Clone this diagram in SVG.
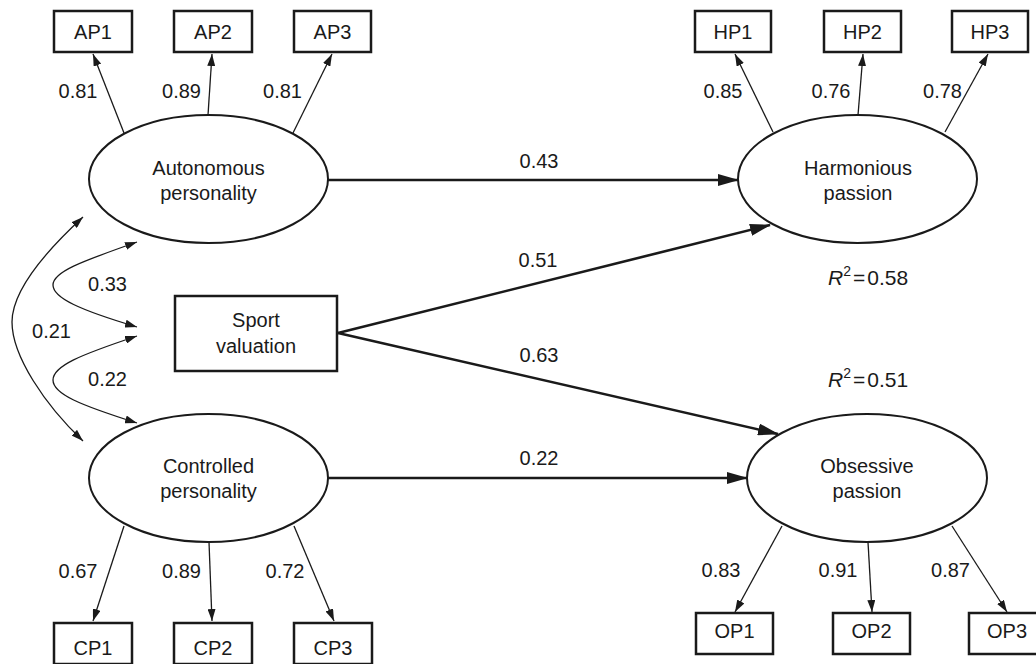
<svg xmlns="http://www.w3.org/2000/svg" width="1036" height="664" viewBox="0 0 1036 664">
<style>
text{font-family:"Liberation Sans",Arial,sans-serif;font-size:20px;fill:#1a1a1a;text-anchor:middle}
.box{fill:#fff;stroke:#1a1a1a;stroke-width:2.5}
.ell{fill:#fff;stroke:#1a1a1a;stroke-width:2}
.bold{fill:none;stroke:#1a1a1a;stroke-width:2.6;marker-end:url(#hb)}
.thin{fill:none;stroke:#1a1a1a;stroke-width:1.3;marker-end:url(#ht)}
.cov{fill:none;stroke:#1a1a1a;stroke-width:1.3;marker-end:url(#ht);marker-start:url(#hts)}
.r2{text-anchor:start;font-size:21px}
</style>
<defs>
<marker id="hb" markerUnits="userSpaceOnUse" viewBox="0 0 21 12" refX="20" refY="6" markerWidth="21" markerHeight="12" orient="auto"><path d="M0,0 L21,6 L0,12 z" fill="#1a1a1a"/></marker>
<marker id="ht" markerUnits="userSpaceOnUse" viewBox="0 0 12 8" refX="12" refY="4" markerWidth="12" markerHeight="8" orient="auto"><path d="M0,0 L12,4 L0,8 z" fill="#1a1a1a"/></marker>
<marker id="hts" markerUnits="userSpaceOnUse" viewBox="0 0 12 8" refX="12" refY="4" markerWidth="12" markerHeight="8" orient="auto-start-reverse"><path d="M0,0 L12,4 L0,8 z" fill="#1a1a1a"/></marker>
</defs>
<rect width="1036" height="664" fill="#fff"/>

<g id="connectors">
<path class="bold" d="M328,180 L738,180"/>
<path class="bold" d="M338,333 L770,225"/>
<path class="bold" d="M338,333 L778,434"/>
<path class="bold" d="M328,478 L747,478"/>
<path class="thin" d="M124,133 L93,54"/>
<path class="thin" d="M208,115 L212,54"/>
<path class="thin" d="M293,133 L332,54"/>
<path class="thin" d="M773,132 L735,54"/>
<path class="thin" d="M858,115 L863,54"/>
<path class="thin" d="M945,132 L988,54"/>
<path class="thin" d="M124,526 L93,621"/>
<path class="thin" d="M209,542 L212,621"/>
<path class="thin" d="M294,526 L334,621"/>
<path class="thin" d="M782,526 L735,612"/>
<path class="thin" d="M868,542 L872,612"/>
<path class="thin" d="M952,526 L1007,612"/>
<path class="cov" d="M83,217 C45,252 12,290 12,322 C12,356 45,405 83,441"/>
<path class="cov" d="M137,242 C80,262 53,272 53,285 C53,298 80,310 137,327"/>
<path class="cov" d="M137,336 C80,355 53,366 53,380 C53,394 80,405 137,423"/>
<text x="539" y="168">0.43</text>
<text x="538" y="267">0.51</text>
<text x="539" y="362">0.63</text>
<text x="539" y="465">0.22</text>
<text x="107.5" y="291">0.33</text>
<text x="107.5" y="386">0.22</text>
<text x="51.5" y="338">0.21</text>
<text x="78" y="98">0.81</text>
<text x="181.5" y="98">0.89</text>
<text x="282.5" y="98">0.81</text>
<text x="723" y="98">0.85</text>
<text x="831" y="98">0.76</text>
<text x="942.5" y="98">0.78</text>
<text x="78" y="578">0.67</text>
<text x="181.5" y="578">0.89</text>
<text x="285" y="578">0.72</text>
<text x="721" y="577">0.83</text>
<text x="838" y="577">0.91</text>
<text x="950.5" y="577">0.87</text>
</g>

<g id="AP1"><rect class="box" x="54" y="11" width="78" height="41"/><text x="93" y="39">AP1</text></g>
<g id="AP2"><rect class="box" x="174" y="11" width="78" height="41"/><text x="213" y="39">AP2</text></g>
<g id="AP3"><rect class="box" x="294" y="11" width="77" height="41"/><text x="332.5" y="39">AP3</text></g>
<g id="HP1"><rect class="box" x="695" y="11" width="76" height="41"/><text x="733" y="39">HP1</text></g>
<g id="HP2"><rect class="box" x="824" y="11" width="77" height="41"/><text x="862.5" y="39">HP2</text></g>
<g id="HP3"><rect class="box" x="952" y="11" width="76" height="41"/><text x="990" y="39">HP3</text></g>
<g id="CP1"><rect class="box" x="54" y="623" width="78" height="41"/><text x="93" y="655">CP1</text></g>
<g id="CP2"><rect class="box" x="174" y="623" width="78" height="41"/><text x="213" y="655">CP2</text></g>
<g id="CP3"><rect class="box" x="294" y="623" width="78" height="41"/><text x="333" y="655">CP3</text></g>
<g id="OP1"><rect class="box" x="696" y="613" width="77" height="41"/><text x="734.5" y="638">OP1</text></g>
<g id="OP2"><rect class="box" x="833" y="613" width="77" height="41"/><text x="871.5" y="638">OP2</text></g>
<g id="OP3"><rect class="box" x="969" y="613" width="77" height="41"/><text x="1007" y="638">OP3</text></g>

<g id="autonomous"><ellipse class="ell" cx="208.5" cy="179" rx="119.5" ry="64"/><text x="208.5" y="175">Autonomous</text><text x="208.5" y="200">personality</text></g>
<g id="controlled"><ellipse class="ell" cx="208.5" cy="478" rx="119.5" ry="64"/><text x="208.5" y="473">Controlled</text><text x="208.5" y="498">personality</text></g>
<g id="harmonious"><ellipse class="ell" cx="857.5" cy="179" rx="119.5" ry="64"/><text x="858" y="175">Harmonious</text><text x="858" y="200">passion</text></g>
<g id="obsessive"><ellipse class="ell" cx="867" cy="478" rx="120" ry="64"/><text x="867" y="473">Obsessive</text><text x="867" y="498">passion</text></g>
<g id="sport"><rect class="box" x="175" y="296" width="162" height="75"/><text x="256" y="327">Sport</text><text x="256" y="353">valuation</text></g>

<g id="r2">
<text class="r2" x="828" y="285"><tspan font-style="italic">R</tspan><tspan dy="-9" font-size="14">2</tspan><tspan dy="9" dx="2">=</tspan><tspan dx="2">0.58</tspan></text>
<text class="r2" x="828" y="387"><tspan font-style="italic">R</tspan><tspan dy="-9" font-size="14">2</tspan><tspan dy="9" dx="2">=</tspan><tspan dx="2">0.51</tspan></text>
</g>
</svg>
